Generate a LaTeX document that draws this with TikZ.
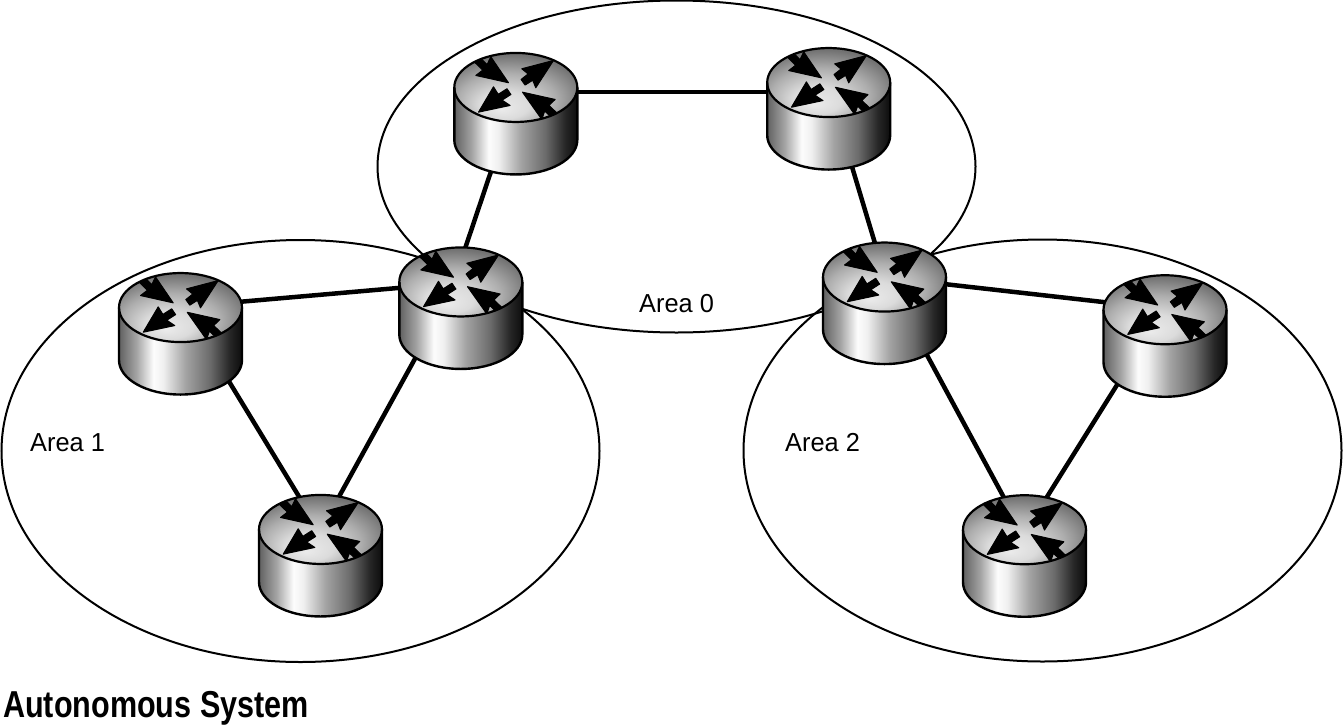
\documentclass[tikz,border=0pt]{standalone}
\usepackage{fontspec}
\setmainfont{Liberation Sans}
\newfontface\areafont{Liberation Sans}[FakeStretch=0.975]
\newfontface\titlefont{Liberation Sans Bold}[FakeStretch=0.815]
\pgfdeclarehorizontalshading{routerside}{100bp}{
  color(0bp)=(black!62); color(25bp)=(black!62); color(32bp)=(black!36);
  color(39bp)=(black!1); color(43bp)=(black!6); color(52bp)=(black!36);
  color(62bp)=(black!58); color(70bp)=(black!85); color(75bp)=(black!95); color(100bp)=(black!95)}
\pgfdeclareradialshading{routertop}{\pgfpoint{-6bp}{-16bp}}{
  color(0bp)=(black!8); color(10bp)=(black!14); color(20bp)=(black!32);
  color(30bp)=(black!55); color(40bp)=(black!68); color(50bp)=(black!72)}
\tikzset{
  x=1pt, y=-1pt,
  area/.style={draw=black, line width=2pt},
  link/.style={draw=black, line width=4.5pt},
  traffic/.style={fill=black, draw=black, line width=1pt, line join=round},
  routerbox/.style={minimum width=125pt, minimum height=123pt, inner sep=0pt, outer sep=0pt},
  arealabel/.style={inner sep=0pt, anchor=base west, font=\areafont\fontsize{26}{26}\selectfont},
  titlelabel/.style={inner sep=0pt, anchor=base west, font=\titlefont\fontsize{37.5}{37.5}\selectfont},
  router/.pic={
    % cylinder wall, then the lid with its four traffic arrows
    \path[shading=routerside]
      (-61.5,-26.25) -- (-61.5,26.25) arc[start angle=180, end angle=360, x radius=61.5, y radius=-34.5]
      -- (61.5,-26.25) -- cycle;
    \path[shading=routertop] (0,-26.25) ellipse[x radius=61.5, y radius=34.5];
    \begin{scope}
      \clip (0,-26.25) ellipse[x radius=61.5, y radius=34.5];
      \begin{scope}[shift={(0,-26.25)}]
        \path[traffic] (-7.3,-4.7) -- (-25,-30.7) -- (-28.7,-22.9) -- (-42.8,-36.8) -- (-47.2,-31.2) -- (-33.1,-17.3) -- (-40,-12) -- cycle;
        \path[traffic] (37.7,-27) -- (6,-18.7) -- (12.3,-13.5) -- (5.3,-8) -- (9.3,-2.4) -- (16.9,-7.2) -- (20,0.3) -- cycle;
        \path[traffic] (-37.3,24.7) -- (-22.3,-0.7) -- (-17.6,6.87) -- (-8.8,1.25) -- (-4.9,7.05) -- (-13.7,12.67) -- (-5.7,18) -- cycle;
        \path[traffic] (6.7,4.7) -- (39.3,12) -- (33.2,18) -- (48.1,32.2) -- (43.9,37.8) -- (28.9,23.6) -- (26,32) -- cycle;
      \end{scope}
    \end{scope}
    \draw[black, line width=2.2pt] (0,-26.25) ellipse[x radius=61.5, y radius=34.5];
    \draw[black, line width=2.4pt]
      (-61.5,-26.25) -- (-61.5,26.25) arc[start angle=180, end angle=360, x radius=61.5, y radius=-34.5]
      -- (61.5,-26.25);
  }
}
\begin{document}
\begin{tikzpicture}
  \useasboundingbox (0,0) rectangle (1344,726);
  % routing areas
  \draw[area] (676.5,166.5) ellipse[x radius=299, y radius=166];
  \draw[area] (300.5,451) ellipse[x radius=299, y radius=211];
  \draw[area] (1042.5,450.5) ellipse[x radius=299, y radius=211];
  % router positions
  \node[routerbox] (A) at (515.8,113.7) {};
  \node[routerbox] (B) at (828.7,108.8) {};
  \node[routerbox] (C) at (460.8,308.2) {};
  \node[routerbox] (D) at (884.5,303.3) {};
  \node[routerbox] (E) at (180.5,333.8) {};
  \node[routerbox] (F) at (320.5,555.7) {};
  \node[routerbox] (G) at (1165,336) {};
  \node[routerbox] (H) at (1024.5,556) {};
  % links between routers
  \draw[link] ([shift={(0,-21.7)}]A.center) -- ([shift={(0,-16.8)}]B.center);
  \draw[link] ([shift={(-5.4,0)}]A.center) -- ([shift={(-15.8,0)}]C.center);
  \draw[link] ([shift={(5.9,0)}]B.center) -- ([shift={(8.5,0)}]D.center);
  \draw[link] ([shift={(0,-25.7)}]C.center) -- ([shift={(0,-26.8)}]E.center);
  \draw[link] ([shift={(-18,0)}]C.center) -- ([shift={(-14,0)}]F.center);
  \draw[link] ([shift={(19.5,0)}]E.center) -- ([shift={(14.5,0)}]F.center);
  \draw[link] ([shift={(0,-26)}]D.center) -- ([shift={(0,-27)}]G.center);
  \draw[link] ([shift={(14.5,0)}]D.center) -- ([shift={(11,0)}]H.center);
  \draw[link] ([shift={(-17.4,0)}]G.center) -- ([shift={(-14.5,0)}]H.center);
  % routers over the links
  \foreach \r in {A,B,C,D,E,F,G,H} \pic at (\r.center) {router};
  % labels
  \node[arealabel] (a0) at (639,312) {Area 0};
  \node[arealabel] (a1) at (30,451) {Area 1};
  \node[arealabel] (a2) at (785,451) {Area 2};
  \node[titlelabel] (as) at (3,717) {Autonomous System};
\end{tikzpicture}
\end{document}
